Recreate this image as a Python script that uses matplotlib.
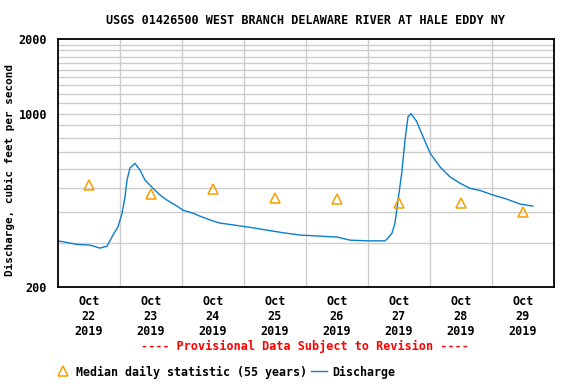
import matplotlib
matplotlib.use("Agg")
import matplotlib.pyplot as plt
from matplotlib.ticker import FixedLocator, NullFormatter

# days since Oct 22 2019 00:00, discharge in cfs
q_days = [0.0, 0.306, 0.516, 0.677, 0.790, 0.887, 0.968, 1.032, 1.081, 1.113,
          1.161, 1.242, 1.323, 1.403, 1.532, 1.645, 1.758, 1.919, 2.016, 2.177,
          2.290, 2.5, 2.613, 2.823, 3.097, 3.371, 3.629, 3.903, 4.5, 4.71,
          5.0, 5.274, 5.323, 5.387, 5.435, 5.484, 5.544, 5.597, 5.645, 5.694,
          5.785, 5.887, 6.0, 6.161, 6.323, 6.484, 6.645, 6.806, 7.016, 7.242,
          7.452, 7.661]
q_cfs = [307, 297, 295, 287, 292, 324, 350, 395, 462, 540,
         604, 630, 592, 540, 500, 470, 448, 424, 408, 397,
         386, 369, 362, 356, 348, 339, 331, 324, 318, 309,
         307, 307, 315, 330, 362, 448, 575, 782, 970, 1000,
         930, 808, 694, 610, 556, 524, 500, 490, 470, 452,
         432, 424]

med_days = [0.5, 1.5, 2.5, 3.5, 4.5, 5.5, 6.5, 7.5]
med_cfs = [514, 474, 499, 455, 452, 438, 435, 400]

day_labels = ["Oct\n22\n2019", "Oct\n23\n2019", "Oct\n24\n2019", "Oct\n25\n2019",
              "Oct\n26\n2019", "Oct\n27\n2019", "Oct\n28\n2019", "Oct\n29\n2019"]

fnt = dict(family="DejaVu Sans Mono", fontweight="bold", fontsize=8.5)

fig = plt.figure(figsize=(5.76, 3.84), dpi=100)
ax = fig.add_axes([58/576, 97/384, 496/576, 248/384])

ax.set_yscale("log")
ax.set_ylim(200, 2000)
ax.set_xlim(0, 8)

# grid
for v in range(300, 2000, 100):
    ax.axhline(v, color="#cccccc", lw=1, zorder=1)
for d in range(1, 8):
    ax.axvline(d, color="#cccccc", lw=1, zorder=1)

l1, = ax.plot(q_days, q_cfs, color="#0a7dd0", lw=1.0, zorder=3, label="Discharge")
m1, = ax.plot(med_days, med_cfs, linestyle="none", marker="^", markersize=7,
              markerfacecolor="none", markeredgecolor="#f5a000", markeredgewidth=1.1,
              zorder=4, label="Median daily statistic (55 years)")

ax.yaxis.set_major_locator(FixedLocator([200, 1000, 2000]))
ax.yaxis.set_minor_locator(FixedLocator([]))
ax.yaxis.set_minor_formatter(NullFormatter())
ax.set_yticklabels(["200", "1000", "2000"], **fnt)
ax.set_xticks(med_days)
ax.set_xticklabels(day_labels, linespacing=1.2, **fnt)
ax.tick_params(length=0, pad=6)
ax.tick_params(axis="y", pad=8)

for s in ax.spines.values():
    s.set_linewidth(1.3)
    s.set_zorder(5)

ax.set_ylabel("Discharge, cubic feet per second", family="DejaVu Sans Mono",
              fontweight="bold", fontsize=7.9)
ax.yaxis.set_label_coords(-0.087, 0.47)

fig.text(306/576, 1 - 20/384, "USGS 01426500 WEST BRANCH DELAWARE RIVER AT HALE EDDY NY",
         ha="center", va="center", **fnt)
fig.text(305/576, 1 - 346/384, "---- Provisional Data Subject to Revision ----",
         ha="center", va="center", color="red", **fnt)

fig.legend(handles=[m1, l1], loc="center left", bbox_to_anchor=(44/576, 1 - 372/384),
           ncol=2, frameon=False, prop=dict(family="DejaVu Sans Mono", weight="bold", size=8.4),
           handlelength=1.4, handletextpad=0.4, columnspacing=0.4)

fig.savefig("out.png", dpi=100)
